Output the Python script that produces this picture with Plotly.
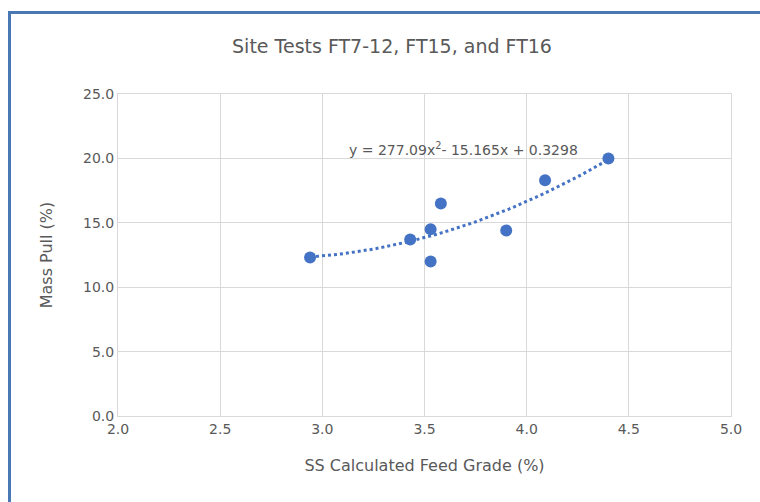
import numpy as np
import plotly.graph_objects as go

# Site test results: feed grade (%) vs mass pull (%)
feed_grade = [2.94, 3.43, 3.53, 3.53, 3.58, 3.90, 4.09, 4.40]
mass_pull = [12.3, 13.7, 14.5, 12.0, 16.5, 14.4, 18.3, 20.0]

# Polynomial trendline coefficients (fitted on fractional values)
trend_a, trend_b, trend_c = 277.09, -15.165, 0.3298
trend_label = "y = 277.09x<sup>2</sup>- 15.165x + 0.3298"

x_ticks = [2.0, 2.5, 3.0, 3.5, 4.0, 4.5, 5.0]
y_ticks = [0.0, 5.0, 10.0, 15.0, 20.0, 25.0]

BLUE = "#4472C4"
TEXT = "#595959"
GRID = "#d9d9d9"
FONT = "DejaVu Sans"

xs = np.linspace(min(feed_grade), max(feed_grade), 100)
xf = xs / 100.0
ys = (trend_a * xf**2 + trend_b * xf + trend_c) * 100.0

fig = go.Figure()
fig.add_trace(go.Scatter(
    x=xs, y=ys, mode="lines",
    line=dict(color=BLUE, width=3, dash="dot"),
    hoverinfo="skip", showlegend=False,
))
fig.add_trace(go.Scatter(
    x=feed_grade, y=mass_pull, mode="markers",
    marker=dict(color=BLUE, size=12),
    showlegend=False,
))

fig.add_annotation(
    x=3.69, y=19.9, xref="x", yref="y", text=trend_label,
    showarrow=False, xanchor="center", yanchor="bottom",
    font=dict(family=FONT, size=14, color=TEXT),
)

W, H = 760, 502
L, R, T, B = 118, 29, 94, 86
pw, ph = W - L - R, H - T - B

def px(xp):
    return (xp - L) / pw

def py(yp):
    return (H - B - yp) / ph

# Frame around the chart (top and left edges)
frame = dict(color="#4a78b5", width=3)
fig.add_shape(type="line", xref="paper", yref="paper",
              x0=px(9.5), x1=px(762), y0=py(12.5), y1=py(12.5), line=frame)
fig.add_shape(type="line", xref="paper", yref="paper",
              x0=px(9.5), x1=px(9.5), y0=py(11), y1=py(505), line=frame)

fig.update_layout(
    width=W, height=H,
    margin=dict(l=L, r=R, t=T, b=B),
    paper_bgcolor="white", plot_bgcolor="white",
    font=dict(family=FONT, size=14, color=TEXT),
    title=dict(text="Site Tests FT7-12, FT15, and FT16",
               x=(392) / W, xanchor="center", y=1 - 46 / H, yanchor="middle",
               font=dict(family=FONT, size=19, color=TEXT)),
)
fig.update_xaxes(
    range=[2.0, 5.0], tickvals=x_ticks, tickformat=".1f",
    showgrid=True, gridcolor=GRID, gridwidth=1,
    showline=True, linecolor=GRID, mirror=True, zeroline=False,
    ticks="", tickfont=dict(size=14, color=TEXT),
    title=dict(text="SS Calculated Feed Grade (%)", standoff=24,
               font=dict(size=16, color=TEXT)),
)
fig.update_yaxes(
    range=[0.0, 25.0], tickvals=y_ticks, tickformat=".1f",
    showgrid=True, gridcolor=GRID, gridwidth=1,
    showline=True, linecolor=GRID, mirror=True, zeroline=False,
    ticks="", tickfont=dict(size=14, color=TEXT),
    title=dict(text="Mass Pull (%)", standoff=26,
               font=dict(size=16, color=TEXT)),
)

fig.write_html("out.html")
